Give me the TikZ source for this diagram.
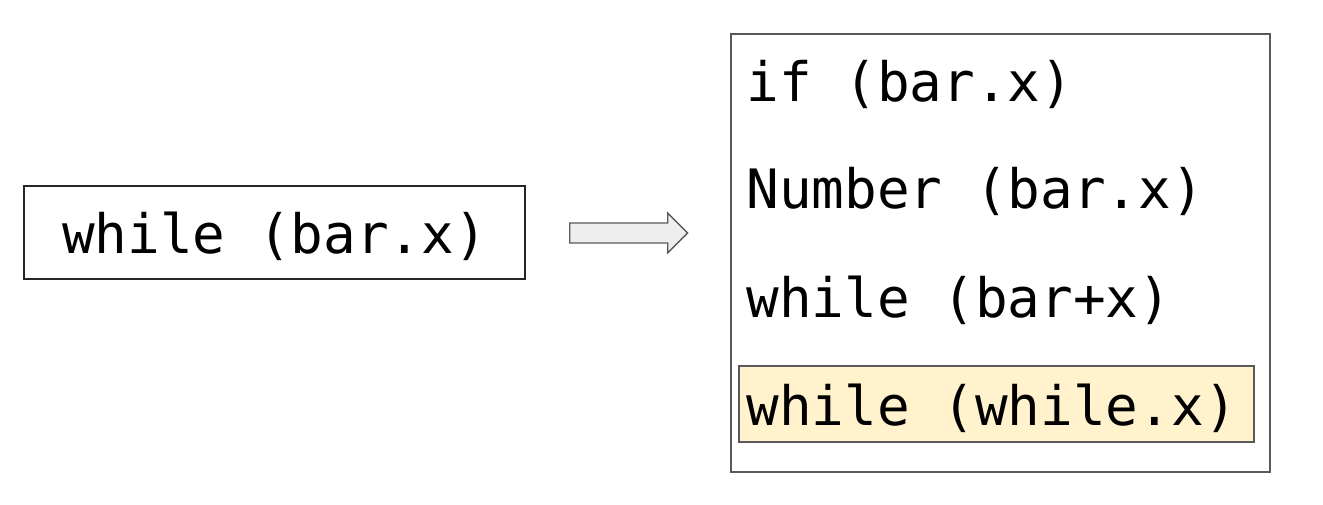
\documentclass[tikz,border=0pt]{standalone}
\usepackage{fontspec}
\setmonofont{DejaVu Sans Mono}
\usepackage{tikz}
\usetikzlibrary{positioning,calc}
\definecolor{hlfill}{HTML}{FFF2CC}
\definecolor{edgegray}{HTML}{595959}
\definecolor{arrowfill}{HTML}{EEEEEE}
\tikzset{
    codebox/.style={
        rectangle,
        draw=black!85,
        line width=0.8pt,
        minimum width=10.02cm,
        minimum height=1.86cm,
        text height=0.98cm,
        text depth=0.16cm,
        font=\fontsize{30.9}{36}\ttfamily
    },
    frame/.style={
        rectangle,
        draw=edgegray,
        line width=0.8pt,
        minimum width=10.78cm,
        minimum height=8.76cm
    },
    hl/.style={
        rectangle,
        draw=edgegray,
        fill=hlfill,
        line width=0.8pt,
        minimum width=10.3cm,
        minimum height=1.52cm
    },
    codeline/.style={
        inner sep=0pt,
        anchor=base west,
        font=\fontsize{30.9}{36}\ttfamily
    },
    blockarrow/.style={
        draw=edgegray,
        fill=arrowfill,
        line width=0.8pt,
        line join=miter
    }
}

\begin{document}
\begin{tikzpicture}
    \useasboundingbox (0,0) rectangle (26.46,-10.1);
    \node[codebox] (query) at (5.49,-4.65) {while (bar.x)};
    \node[frame] (candbox) at (20.01,-5.06) {};
    \node[hl] (hlbox) at (19.93,-8.08) {};
    \node[codeline] (cand1) at (14.92,-2.03) {if (bar.x)};
    \node[codeline] (cand2) at (14.92,-4.17) {Number (bar.x)};
    \node[codeline] (cand3) at (14.92,-6.34) {while (bar+x)};
    \node[codeline] (cand4) at (14.92,-8.5) {while (while.x)};
    % block arrow between the two boxes
    \coordinate (astart) at ($(query.east)+(0.88,-0.01)$);
    \draw[blockarrow] (astart) ++(0,0.2) -- ++(1.96,0) -- ++(0,0.2)
        -- ++(0.4,-0.4) -- ++(-0.4,-0.4) -- ++(0,0.2) -- ++(-1.96,0) -- cycle;
\end{tikzpicture}
\end{document}
